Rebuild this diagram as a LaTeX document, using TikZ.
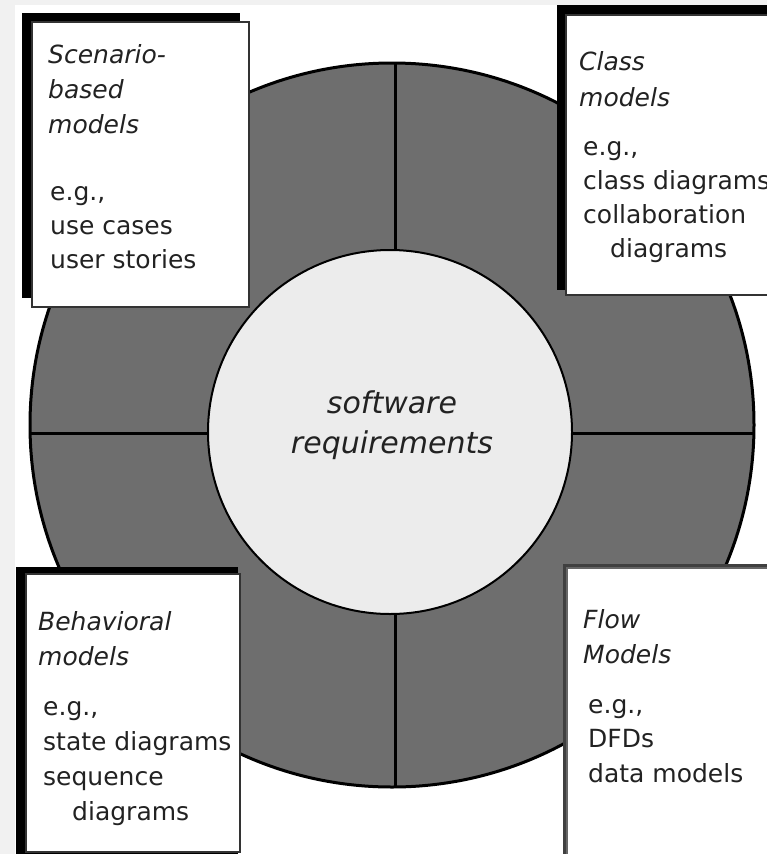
\documentclass[tikz,border=0pt]{standalone}
\usepackage{fontspec}
\setmainfont{DejaVu Sans}
\definecolor{bggray}{HTML}{F1F1F1}
\definecolor{ringgray}{HTML}{6E6E6E}
\definecolor{innergray}{HTML}{ECECEC}
\definecolor{txt}{HTML}{222222}
\definecolor{boxline}{HTML}{333333}
\tikzset{
  shadowbox/.style={fill=black, draw=none},
  whitebox/.style={fill=white, draw=boxline, line width=1.6pt},
  title/.style={anchor=base west, inner sep=0pt, text=txt, font=\fontsize{25}{30}\selectfont\itshape},
  body/.style={anchor=base west, inner sep=0pt, text=txt, font=\fontsize{25}{30}\selectfont},
  center/.style={anchor=base, inner sep=0pt, text=txt, font=\fontsize{30}{36}\selectfont\itshape},
  divider/.style={line width=3pt, draw=black}
}
\begin{document}
\begin{tikzpicture}[x=1pt,y=-1pt]
\useasboundingbox (0,0) rectangle (767,854);
\fill[bggray] (0,0) rectangle (767,854);
\fill[white] (15,5) rectangle (767,854);
% outer ring
\node[circle, minimum size=724pt, inner sep=0pt, draw=black, line width=3pt, fill=ringgray] (outer) at (392,425) {};
\begin{scope}
\clip (392,425) circle[radius=361];
\draw[divider] (395,40) -- (395,810);
\draw[divider] (0,433) -- (767,433);
\end{scope}
% inner circle
\node[circle, minimum size=364pt, inner sep=0pt, draw=black, line width=2pt, fill=innergray] (inner) at (390,432) {};
\node[center] (sw) at (392,413) {software};
\node[center] (req) at (392,453) {requirements};
% top-left box
\fill[shadowbox] (22,13) rectangle (240,298);
\draw[whitebox] (32,22) rectangle (249,307);
\node[title] (tl1) at (48,63) {Scenario-};
\node[title] (tl2) at (48,98) {based};
\node[title] (tl3) at (48,133) {models};
\node[body] (tl4) at (50,200) {e.g.,};
\node[body] (tl5) at (50,234) {use cases};
\node[body] (tl6) at (50,268) {user stories};
% top-right box
\fill[shadowbox] (557,5) rectangle (775,290);
\draw[whitebox] (566,15) rectangle (785,295);
\node[title] (tr1) at (579,70) {Class};
\node[title] (tr2) at (579,106) {models};
\node[body] (tr3) at (583,155) {e.g.,};
\node[body] (tr4) at (583,189) {class diagrams};
\node[body] (tr5) at (583,223) {collaboration};
\node[body] (tr6) at (610,257) {diagrams};
% bottom-left box
\fill[shadowbox] (16,567) rectangle (238,862);
\draw[whitebox] (26,574) rectangle (240,852);
\node[title] (bl1) at (38,630) {Behavioral};
\node[title] (bl2) at (38,665) {models};
\node[body] (bl3) at (43,715) {e.g.,};
\node[body] (bl4) at (43,750) {state diagrams};
\node[body] (bl5) at (43,785) {sequence};
\node[body] (bl6) at (72,820) {diagrams};
% bottom-right box
\fill[black!75] (563,564) rectangle (775,862);
\draw[whitebox, draw=black!60] (567,568) rectangle (785,862);
\node[title] (br1) at (583,628) {Flow};
\node[title] (br2) at (583,663) {Models};
\node[body] (br3) at (588,713) {e.g.,};
\node[body] (br4) at (588,747) {DFDs};
\node[body] (br5) at (588,782) {data models};
\end{tikzpicture}
\end{document}
